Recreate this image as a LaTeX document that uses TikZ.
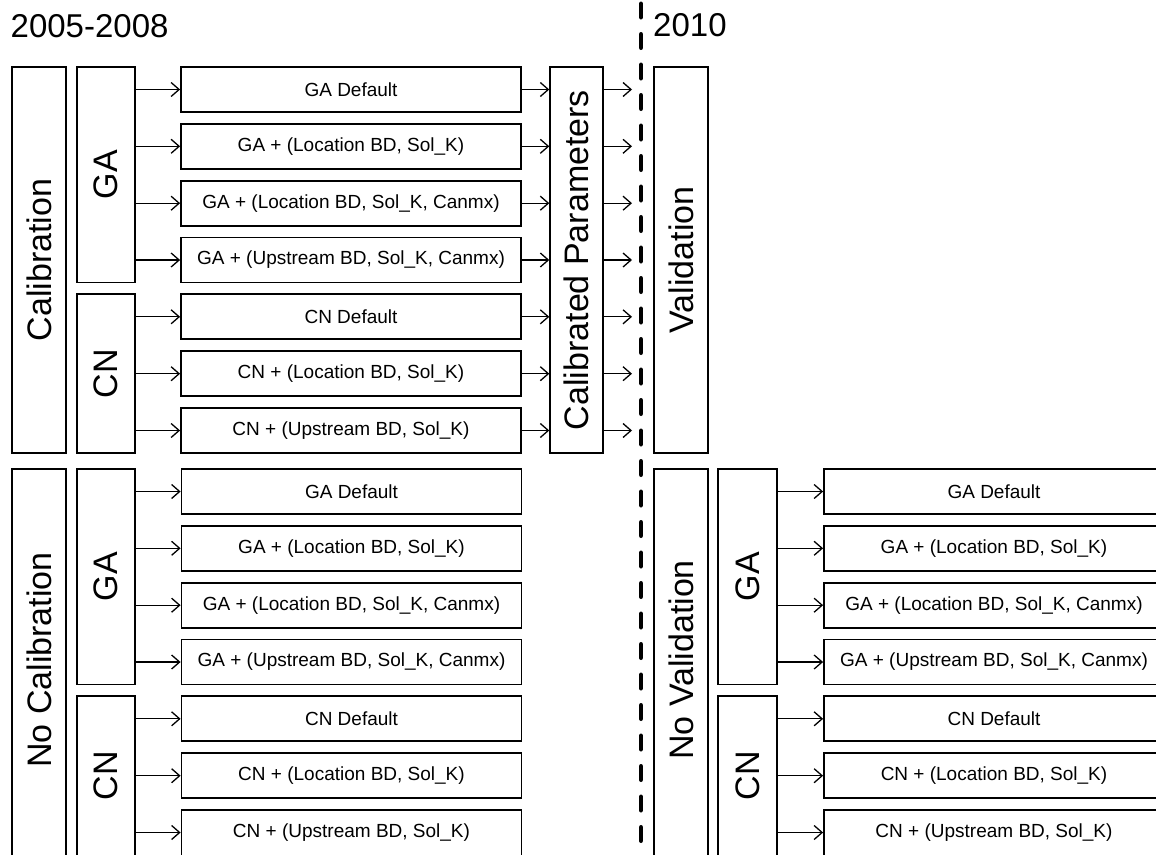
\documentclass[tikz,border=0pt]{standalone}
\usepackage{fontspec}
\setmainfont{Liberation Sans}
\usetikzlibrary{arrows.meta}
\begin{document}
\begin{tikzpicture}[x=1pt,y=-1pt,
  box/.style={draw, line width=1.8pt, rectangle, inner sep=0pt, minimum width=340pt, minimum height=45pt, font=\fontsize{19}{22}\selectfont},
  rowtext/.style={inner sep=0pt, font=\fontsize{19}{22}\selectfont},
  vbox/.style={draw, line width=1.8pt, rectangle, inner sep=0pt, rotate=90, font=\fontsize{34}{40}\selectfont},
  vtext/.style={inner sep=0pt, rotate=90, font=\fontsize{34}{40}\selectfont},
  arr/.style={line width=1.3pt, -{Straight Barb[length=8pt,width=14pt,line width=1.3pt]}},
  year/.style={anchor=base west, inner sep=0pt, font=\fontsize{33}{40}\selectfont},
  dashline/.style={line width=4.5pt, line cap=round, dash pattern=on 13.5pt off 17pt}]
\path[use as bounding box, clip] (0,0) rectangle (1156,854);

% year labels
\node[year] (y1) at (10.5,37) {2005-2008};
\node[year] (y2) at (653,36) {2010};

% dashed separator
\coordinate (dtop) at (641,3.75);
\coordinate (dbot) at (641,870);
\draw[dashline] (dtop) -- (dbot);

% upper vertical boxes
\node[vbox, minimum width=386pt, minimum height=54pt] (calib) at (39,260) {Calibration};
\node[vbox, minimum width=215.5pt, minimum height=58pt] (gaU) at (106,174.8) {GA};
\node[vbox, minimum width=158.7pt, minimum height=58pt] (cnU) at (106,373.7) {CN};
\node[vbox, line width=1.4pt, minimum width=386pt, minimum height=53pt] (cp) at (576.5,260) {Calibrated Parameters};
\node[vbox, minimum width=386pt, minimum height=54pt] (val) at (681,260) {Validation};

% lower vertical boxes (run past the bottom edge)
\node[vbox, minimum width=401pt, minimum height=54pt] (nocal) at (39,669.5) {};
\node[vtext] (nocalT) at (39,660) {No Calibration};
\node[vbox, minimum width=215.5pt, minimum height=58pt] (gaL) at (106,576.8) {GA};
\node[vbox, minimum width=173.7pt, minimum height=58pt] (cnL) at (106,783.15) {};
\node[vtext] (cnLT) at (106,775.7) {CN};
\node[vbox, minimum width=401pt, minimum height=54pt] (noval) at (681,669.5) {};
\node[vtext] (novalT) at (681,660) {No Validation};
\node[vbox, minimum width=215.5pt, minimum height=59pt] (gaR) at (747.5,576.8) {GA};
\node[vbox, minimum width=173.7pt, minimum height=59pt] (cnR) at (747.5,783.15) {};
\node[vtext] (cnRT) at (747.5,775.7) {CN};

% upper rows
\foreach \i/\y/\t/\src in {1/89.5/{GA Default}/gaU,
                           2/146.3/{GA + (Location BD, Sol\_K)}/gaU,
                           3/203.2/{GA + (Location BD, Sol\_K, Canmx)}/gaU,
                           4/260.0/{GA + (Upstream BD, Sol\_K, Canmx)}/gaU,
                           5/316.8/{CN Default}/cnU,
                           6/373.7/{CN + (Location BD, Sol\_K)}/cnU,
                           7/430.5/{CN + (Upstream BD, Sol\_K)}/cnU}{
  \node[box] (b\i) at (351,\y) {\t};
  \coordinate (e\i) at (632,\y);
  \draw[arr] (\src.south |- b\i) -- (b\i.west);
  \draw[arr] (b\i.east) -- (cp.north |- b\i);
  \draw[arr] (cp.south |- b\i) -- (e\i);
}

% lower left rows
\foreach \i/\y/\t/\src in {1/491.5/{GA Default}/gaL,
                           2/548.3/{GA + (Location BD, Sol\_K)}/gaL,
                           3/605.2/{GA + (Location BD, Sol\_K, Canmx)}/gaL,
                           4/662.0/{GA + (Upstream BD, Sol\_K, Canmx)}/gaL,
                           5/718.8/{CN Default}/cnL,
                           6/775.7/{CN + (Location BD, Sol\_K)}/cnL}{
  \node[box] (c\i) at (351.5,\y) {\t};
  \draw[arr] (\src.south |- c\i) -- (c\i.west);
}
\node[box, minimum height=60pt] (c7) at (351.5,840) {};
\node[rowtext] (c7T) at (351.5,832.5) {CN + (Upstream BD, Sol\_K)};
\draw[arr] (cnL.south |- c7T) -- (c7.west |- c7T);

% lower right rows
\foreach \i/\y/\t/\src in {1/491.5/{GA Default}/gaR,
                           2/548.3/{GA + (Location BD, Sol\_K)}/gaR,
                           3/605.2/{GA + (Location BD, Sol\_K, Canmx)}/gaR,
                           4/662.0/{GA + (Upstream BD, Sol\_K, Canmx)}/gaR,
                           5/718.8/{CN Default}/cnR,
                           6/775.7/{CN + (Location BD, Sol\_K)}/cnR}{
  \node[box] (d\i) at (994,\y) {\t};
  \draw[arr] (\src.south |- d\i) -- (d\i.west);
}
\node[box, minimum height=60pt] (d7) at (994,840) {};
\node[rowtext] (d7T) at (994,832.5) {CN + (Upstream BD, Sol\_K)};
\draw[arr] (cnR.south |- d7T) -- (d7.west |- d7T);
\end{tikzpicture}
\end{document}
